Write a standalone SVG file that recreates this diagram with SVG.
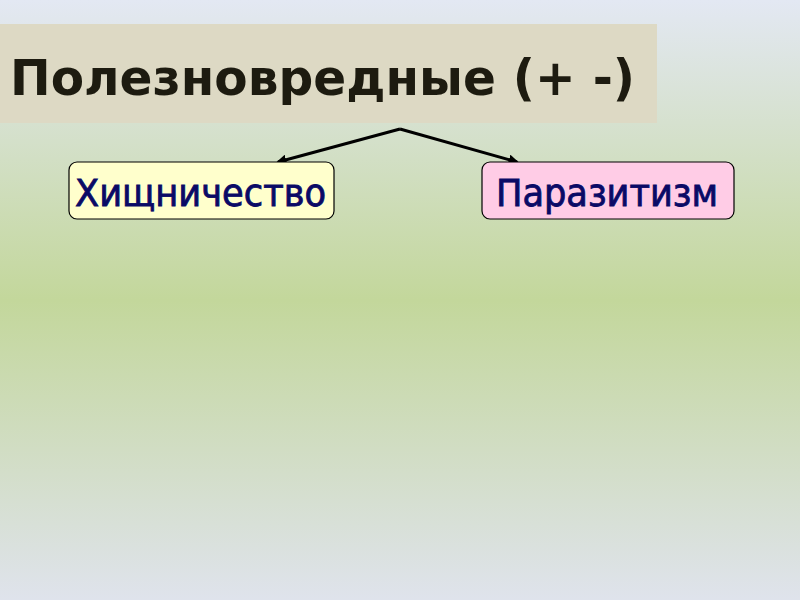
<svg xmlns="http://www.w3.org/2000/svg" width="800" height="600" viewBox="0 0 800 600">
<defs>
<linearGradient id="bg" x1="0" y1="0" x2="0" y2="1">
<stop offset="0" stop-color="#e3e8f3"/>
<stop offset="0.5" stop-color="#c3d79b"/>
<stop offset="1" stop-color="#dfe3ec"/>
</linearGradient>
<marker id="ah" viewBox="0 0 10 10" refX="8" refY="5" markerWidth="3.5" markerHeight="3.5" orient="auto-start-reverse">
<path d="M0,0 L10,5 L0,10 z" fill="#000"/>
</marker>
<style>
.node rect{stroke:#000;stroke-width:1.2}
.lbl{font-family:"DejaVu Sans Condensed","DejaVu Sans","Noto Sans",sans-serif;font-size:37px;fill:#0a0a66;stroke:#0a0a66;stroke-width:0.8}
.conn line{stroke:#000;stroke-width:3;marker-end:url(#ah)}
</style>
</defs>
<rect width="800" height="600" fill="url(#bg)"/>
<g id="title">
<rect x="0" y="24" width="657" height="99" fill="#ddd9c4"/>
<text x="10" y="95" font-family="DejaVu Sans, sans-serif" font-weight="bold" font-size="49" fill="#1d1b10" textLength="625" lengthAdjust="spacingAndGlyphs">Полезновредные (+ -)</text>
</g>
<g id="connectors" class="conn">
<line x1="400" y1="129" x2="278" y2="162"/>
<line x1="400" y1="129" x2="517" y2="162"/>
</g>
<g id="node-predation" class="node">
<rect x="69" y="162" width="265" height="57" rx="8" fill="#ffffcc"/>
<text class="lbl" x="75" y="206" textLength="251" lengthAdjust="spacingAndGlyphs">Хищничество</text>
</g>
<g id="node-parasitism" class="node">
<rect x="482" y="162" width="252" height="57" rx="8" fill="#ffcce6"/>
<text class="lbl" x="496" y="206" textLength="222" lengthAdjust="spacingAndGlyphs">Паразитизм</text>
</g>
</svg>
